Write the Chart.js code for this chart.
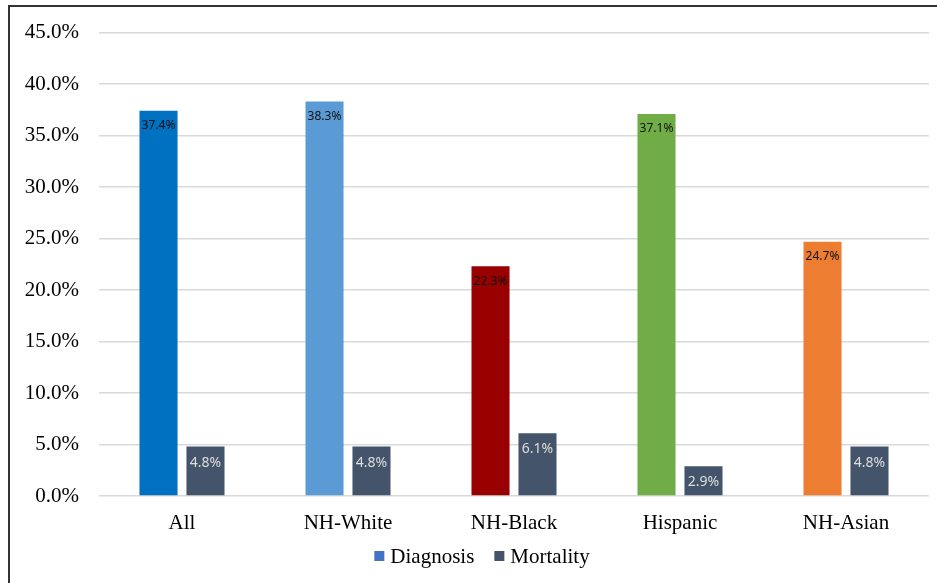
<!DOCTYPE html>
<html>
<head>
<meta charset="utf-8">
<script src="https://cdn.jsdelivr.net/npm/chart.js@4"></script>
<style>
  html, body { margin: 0; padding: 0; background: #fff; }
  #wrap { position: relative; width: 937px; height: 583px; }
  #frame { position: absolute; left: 8px; top: 5px; right: 0; bottom: 0;
           border-top: 2px solid #333; border-left: 2px solid #333; pointer-events: none; }
  canvas { position: absolute; left: 0; top: 0; }
</style>
</head>
<body>
<div id="wrap">
  <canvas id="c" width="937" height="583"></canvas>
  <div id="frame"></div>
</div>
<script>
// Share of cases by group
const categories = ['All', 'NH-White', 'NH-Black', 'Hispanic', 'NH-Asian'];
const diagnosis = [37.4, 38.3, 22.3, 37.1, 24.7];
const mortality = [4.8, 4.8, 6.1, 2.9, 4.8];
const yTicks = [0, 5, 10, 15, 20, 25, 30, 35, 40, 45];

const diagnosisColors = ['#0070C0', '#5B9BD5', '#990000', '#70AD47', '#ED7D31'];
const diagnosisLegendColor = '#4472C4';
const mortalityColor = '#44546A';

const serif = '"Liberation Serif", "Times New Roman", serif';
const labelFont = '"Noto Sans", "DejaVu Sans", sans-serif';

// Plot area edges
const plotTop = 29;
const plotBottom = 496;

// Value labels drawn just inside the top of each bar
const barLabels = {
  id: 'barLabels',
  afterDatasetsDraw(chart) {
    const ctx = chart.ctx;
    chart.data.datasets.forEach((ds, di) => {
      const meta = chart.getDatasetMeta(di);
      meta.data.forEach((bar, i) => {
        const v = ds.data[i];
        ctx.save();
        ctx.textAlign = 'center';
        ctx.textBaseline = 'middle';
        if (di === 0) {
          ctx.font = '12px ' + labelFont;
          ctx.fillStyle = '#111';
          ctx.fillText(v.toFixed(1) + '%', bar.x, bar.y + 15);
        } else {
          ctx.font = '14px ' + labelFont;
          ctx.fillStyle = '#dedede';
          ctx.fillText(v.toFixed(1) + '%', bar.x, bar.y + 16);
        }
        ctx.restore();
      });
    });
  }
};

// Legend row below the category labels
const legendRow = {
  id: 'legendRow',
  afterDraw(chart) {
    const ctx = chart.ctx;
    const items = chart.data.datasets.map((ds, i) => ({
      text: ds.label,
      color: i === 0 ? diagnosisLegendColor : mortalityColor
    }));
    const box = 10, gap = 6, spacing = 20, centerX = 482, centerY = 556;
    ctx.save();
    ctx.font = '21px ' + serif;
    ctx.textBaseline = 'middle';
    ctx.textAlign = 'left';
    const widths = items.map(it => ctx.measureText(it.text).width);
    let total = 0;
    widths.forEach((w, i) => { total += box + gap + w + (i ? spacing : 0); });
    let x = centerX - total / 2;
    items.forEach((it, i) => {
      ctx.fillStyle = it.color;
      ctx.fillRect(x, centerY - box / 2, box, box);
      ctx.fillStyle = '#000';
      ctx.fillText(it.text, x + box + gap, centerY + 1);
      x += box + gap + widths[i] + spacing;
    });
    ctx.restore();
  }
};

const chart = new Chart(document.getElementById('c'), {
  type: 'bar',
  data: {
    labels: categories,
    datasets: [
      { label: 'Diagnosis', data: diagnosis, backgroundColor: diagnosisColors, borderWidth: 0 },
      { label: 'Mortality', data: mortality, backgroundColor: mortalityColor, borderWidth: 0 }
    ]
  },
  options: {
    responsive: false,
    animation: false,
    devicePixelRatio: 1,
    categoryPercentage: 0.566,
    barPercentage: 0.81,
    layout: { padding: { top: plotTop, right: 8, left: 0, bottom: 47 } },
    plugins: {
      tooltip: { enabled: false },
      legend: { display: false }
    },
    scales: {
      x: {
        afterFit(scale) { scale.height = 40; },
        grid: { display: false, drawTicks: false },
        border: { display: false },
        ticks: { font: { family: serif, size: 21 }, color: '#000', padding: 15 }
      },
      y: {
        min: 0,
        max: 45,
        afterBuildTicks(scale) { scale.ticks = yTicks.map(v => ({ value: v })); },
        afterFit(scale) { scale.width = 99; },
        grid: { color: '#d9d9d9', lineWidth: 1.5, drawTicks: false },
        border: { display: false },
        ticks: {
          font: { family: serif, size: 21 },
          color: '#000',
          padding: 20,
          callback: v => v.toFixed(1) + '%'
        }
      }
    }
  },
  plugins: [barLabels, legendRow]
});

// Pin the plot area edges exactly, compensating for any space the axes reserve
const pad = chart.options.layout.padding;
pad.top += plotTop - chart.chartArea.top;
pad.bottom += chart.chartArea.bottom - plotBottom;
chart.update();
</script>
</body>
</html>
